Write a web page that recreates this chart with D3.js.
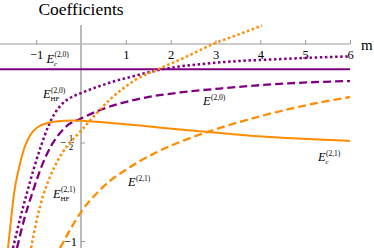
<!DOCTYPE html>
<html>
<head>
<meta charset="utf-8">
<script src="https://cdn.jsdelivr.net/npm/d3@7"></script>
<style>
  body { margin: 0; background: #fff; }
  text { font-family: "Liberation Serif", "Times New Roman", "DejaVu Serif", serif; }
</style>
</head>
<body>
<svg width="374" height="248"></svg>
<script>
// values, [m, coefficient]
var ecVal20 = -0.128;

var hf20 = [[-1.517,-1.036],[-1.361,-0.888],[-1.205,-0.756],[-1.048,-0.629],[-0.892,-0.518],
    [-0.736,-0.421],[-0.580,-0.350],[-0.424,-0.305],[-0.245,-0.274],[0.0,-0.249],
    [0.424,-0.213],[0.758,-0.188],[1.093,-0.168],[1.539,-0.142],[2.052,-0.119],
    [2.811,-0.099],[3.547,-0.086],[4.216,-0.079],[5.287,-0.068],[6.0,-0.063]];

var e20 = [[-1.428,-1.036],[-1.271,-0.893],[-1.093,-0.761],[-0.892,-0.629],[-0.669,-0.518],
    [-0.468,-0.452],[-0.290,-0.411],[-0.022,-0.381],[0.424,-0.335],[0.870,-0.302],
    [1.316,-0.277],[2.208,-0.246],[3.101,-0.226],[4.060,-0.208],[5.041,-0.195],[6.0,-0.188]];

var ec21 = [[-1.628,-1.036],[-1.561,-0.893],[-1.495,-0.761],[-1.383,-0.629],[-1.249,-0.518],
    [-1.115,-0.457],[-0.959,-0.421],[-0.736,-0.401],[-0.468,-0.391],[-0.201,-0.388],
    [0.089,-0.391],[0.424,-0.396],[1.316,-0.414],[2.320,-0.437],[3.101,-0.452],
    [4.060,-0.470],[5.041,-0.482],[6.0,-0.492]];

var hf21 = [[-1.115,-1.036],[-0.981,-0.888],[-0.848,-0.772],[-0.692,-0.675],[-0.513,-0.589],
    [-0.290,-0.513],[-0.067,-0.457],[0.134,-0.406],[0.357,-0.350],[0.647,-0.282],
    [0.937,-0.226],[1.205,-0.183],[1.762,-0.124],[2.431,-0.056],[2.944,0.0],
    [3.547,0.051],[4.037,0.094]];

var e21 = [[-0.468,-1.036],[-0.245,-0.944],[0.0,-0.853],[0.357,-0.756],[0.647,-0.695],
    [1.026,-0.635],[1.316,-0.594],[1.695,-0.548],[2.208,-0.497],[3.101,-0.426],
    [4.060,-0.363],[5.041,-0.310],[6.0,-0.269]];

var xTicks = [-1, 1, 2, 3, 4, 5, 6];
var yTicks = [-0.5, -1];

var purple = '#800080',
    orange = '#ff8c00';

var svg = d3.select('svg');

var x = d3.scaleLinear().domain([0, 6]).range([81, 350]);
var y = d3.scaleLinear().domain([0, -1]).range([44, 241]);

svg.append('clipPath').attr('id', 'plot')
  .append('rect').attr('x', 0).attr('y', 24).attr('width', 374).attr('height', 224);

// title
svg.append('text')
    .attr('x', x(0))
    .attr('y', 15)
    .attr('text-anchor', 'middle')
    .attr('font-size', 17.5)
    .text('Coefficients');

// x axis, ticks pointing up
var xAxis = svg.append('g')
    .attr('transform', 'translate(0,' + y(0) + ')')
    .call(d3.axisBottom(x).tickValues(xTicks).tickFormat(d3.format('d'))
        .tickSizeInner(-4).tickSizeOuter(0).tickPadding(6));
xAxis.select('.domain').attr('d', 'M0,0H' + x(6)).attr('stroke', '#999');
xAxis.selectAll('.tick line').attr('stroke', '#999');
xAxis.selectAll('text').attr('font-size', 12.5);

svg.append('text')
    .attr('x', 361)
    .attr('y', 50)
    .attr('font-size', 15)
    .text('m');

// y axis
var yAxis = svg.append('g')
    .attr('transform', 'translate(' + x(0) + ',0)')
    .call(d3.axisLeft(y).tickValues(yTicks).tickSizeInner(-4).tickSizeOuter(0).tickPadding(4)
        .tickFormat(function(d) { return d === -0.5 ? '' : d3.format('d')(d); }));
yAxis.select('.domain').attr('d', 'M0,25V248').attr('stroke', '#bbb').attr('stroke-width', 2);
yAxis.selectAll('.tick line').attr('stroke', '#999');
yAxis.selectAll('text').attr('font-size', 12.5);

// the -1/2 label as a stacked fraction
var half = svg.append('g').attr('font-size', 9);
half.append('text').attr('x', 66).attr('y', y(-0.5) + 3).attr('text-anchor', 'end')
    .attr('font-size', 11).text('\u2212');
half.append('text').attr('x', 71).attr('y', y(-0.5) - 1.5).attr('text-anchor', 'middle').text('1');
half.append('line').attr('x1', 68).attr('x2', 74).attr('y1', y(-0.5)).attr('y2', y(-0.5))
    .attr('stroke', '#000').attr('stroke-width', 0.6);
half.append('text').attr('x', 71).attr('y', y(-0.5) + 7.5).attr('text-anchor', 'middle').text('2');

// curves
var line = d3.line()
    .x(function(d) { return x(d[0]); })
    .y(function(d) { return y(d[1]); })
    .curve(d3.curveMonotoneX);

var curves = svg.append('g').attr('clip-path', 'url(#plot)').attr('fill', 'none');

curves.append('path')
    .attr('d', line([[x.invert(0), ecVal20], [6, ecVal20]]))
    .attr('stroke', purple).attr('stroke-width', 2);

curves.append('path').attr('d', line(hf20))
    .attr('stroke', purple).attr('stroke-width', 2.5).attr('stroke-dasharray', '2.5,2.6');

curves.append('path').attr('d', line(e20))
    .attr('stroke', purple).attr('stroke-width', 2.3).attr('stroke-dasharray', '8,4');

curves.append('path').attr('d', line(ec21))
    .attr('stroke', orange).attr('stroke-width', 2);

curves.append('path').attr('d', line(hf21))
    .attr('stroke', orange).attr('stroke-width', 2.5).attr('stroke-dasharray', '2.5,2.6');

curves.append('path').attr('d', line(e21))
    .attr('stroke', orange).attr('stroke-width', 2.3).attr('stroke-dasharray', '8,4');

// curve labels
function label(px, py, sup, sub) {
    var g = svg.append('g');
    g.append('text').attr('x', px).attr('y', py)
        .attr('font-size', 12.5).attr('font-style', 'italic').text('E');
    g.append('text').attr('x', px + 8).attr('y', py - 5.5)
        .attr('font-size', 7.5).text(sup);
    if (sub) {
        g.append('text').attr('x', px + 7.5).attr('y', py + 3)
            .attr('font-size', 7)
            .attr('font-style', sub === 'c' ? 'italic' : 'normal')
            .text(sub);
    }
}

label(46.5, 62.5, '(2,0)', 'c');
label(43, 98, '(2,0)', 'HF');
label(203, 105, '(2,0)');
label(318, 161, '(2,1)', 'c');
label(53, 197.5, '(2,1)', 'HF');
label(128, 186, '(2,1)');
</script>
</body>
</html>
